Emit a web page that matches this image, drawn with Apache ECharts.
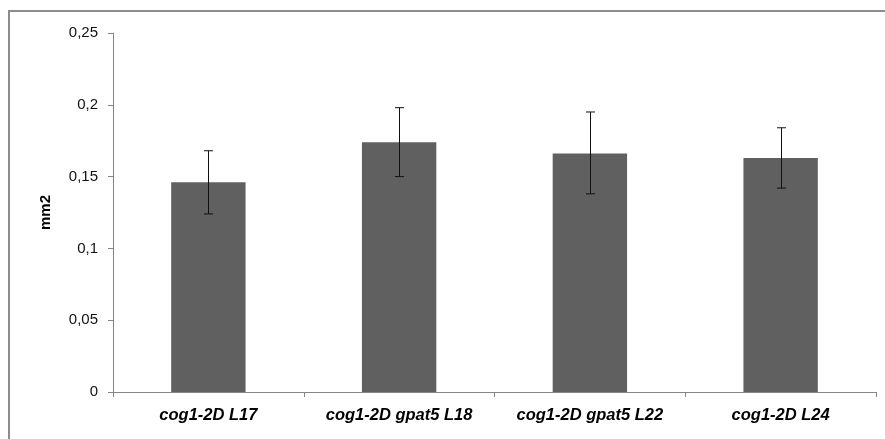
<!DOCTYPE html>
<html><head><meta charset="utf-8">
<script src="https://cdn.jsdelivr.net/npm/echarts@6/dist/echarts.min.js"></script>
<style>html,body{margin:0;padding:0;background:#fff}#c{width:885px;height:439px}</style>
</head><body><div id="c"></div>
<script>
const categories = ['cog1-2D L17', 'cog1-2D gpat5 L18', 'cog1-2D gpat5 L22', 'cog1-2D L24'];
const means = [0.146, 0.174, 0.166, 0.163];
const errLow = [0.124, 0.150, 0.138, 0.142];
const errHigh = [0.168, 0.198, 0.195, 0.184];
const yTickLabels = ['0', '0,05', '0,1', '0,15', '0,2', '0,25'];
const yName = 'mm2';

const chart = echarts.init(document.getElementById('c'));
const axisGray = '#868686';
chart.setOption({
  animation: false,
  backgroundColor: '#fff',
  graphic: [{
    type: 'polyline', silent: true, z: 0,
    shape: { points: [[9, 460], [9, 11], [900, 11]] },
    style: { stroke: '#8c8c8c', lineWidth: 2, fill: null }
  }],
  grid: { left: 113, right: 9, top: 33, bottom: 47 },
  xAxis: {
    type: 'category', data: categories,
    axisLine: { lineStyle: { color: axisGray, width: 1 } },
    axisTick: { show: true, length: 5, lineStyle: { color: axisGray } },
    axisLabel: { interval: 0, hideOverlap: false, color: '#000', fontFamily: 'Liberation Sans', fontWeight: 'bold', fontStyle: 'italic', fontSize: 16.5, margin: 15 }
  },
  yAxis: {
    type: 'value', min: 0, max: 0.25, interval: 0.05,
    name: yName, nameLocation: 'middle', nameGap: 60, nameRotate: 90,
    nameTextStyle: { color: '#000', fontFamily: 'Liberation Sans', fontWeight: 'bold', fontSize: 15 },
    axisLine: { show: true, lineStyle: { color: axisGray, width: 1 } },
    axisTick: { show: true, length: 5, lineStyle: { color: axisGray } },
    splitLine: { show: false },
    axisLabel: {
      color: '#111', fontFamily: 'Liberation Sans', fontSize: 15, margin: 15,
      formatter: v => yTickLabels[Math.round(v / 0.05)]
    }
  },
  series: [{
    type: 'bar', data: means, barWidth: '39%',
    itemStyle: { color: '#606060' }, z: 2
  }, {
    type: 'custom', z: 3,
    data: categories.map((c, i) => [i, errLow[i], errHigh[i]]),
    renderItem: function (params, api) {
      const i = api.value(0);
      const lo = api.coord([i, api.value(1)]);
      const hi = api.coord([i, api.value(2)]);
      const x = Math.round(lo[0]) + 0.5;
      const hw = 4.5;
      const st = { stroke: '#111', lineWidth: 1 };
      return {
        type: 'group', children: [
          { type: 'line', shape: { x1: x, y1: hi[1], x2: x, y2: lo[1] }, style: st },
          { type: 'line', shape: { x1: x - hw, y1: hi[1], x2: x + hw, y2: hi[1] }, style: st },
          { type: 'line', shape: { x1: x - hw, y1: lo[1], x2: x + hw, y2: lo[1] }, style: st }
        ]
      };
    }
  }]
});
</script></body></html>
